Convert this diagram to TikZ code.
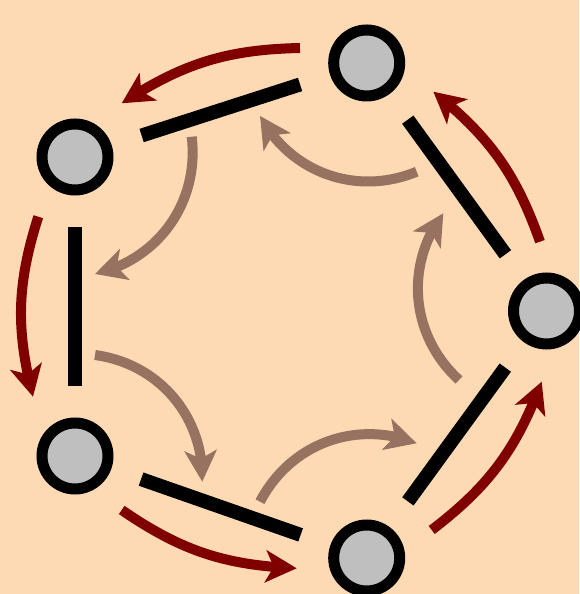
\documentclass[tikz,border=0pt]{standalone}
\usetikzlibrary{arrows.meta,bending}
\definecolor{peach}{RGB}{254,218,180}
\definecolor{maroonred}{RGB}{128,0,0}
\definecolor{arrowbrown}{RGB}{152,114,96}
\definecolor{vertexgray}{RGB}{191,191,191}
\begin{document}
\begin{tikzpicture}[x=1pt,y=1pt,
  vertex/.style={circle,draw=black,fill=vertexgray,line width=11pt,
    minimum size=66pt,inner sep=0pt,outer sep=0pt},
  bar/.style={line width=14pt,shorten <=37pt,shorten >=37pt},
  outerarrow/.style={line width=10pt,draw=maroonred,
    -{Stealth[length=31pt,width=32pt,inset=8pt]},bend right=16},
  innerarrow/.style={line width=10pt,draw=arrowbrown,
    -{Stealth[length=31pt,width=32pt,inset=8pt]},bend left=42}]
\fill[peach] (0,0) rectangle (579,594);
\useasboundingbox (0,0) rectangle (579,594);
% vertices
\node[vertex] (A) at (366.7,531) {};
\node[vertex] (B) at (75,437) {};
\node[vertex] (C) at (75,138) {};
\node[vertex] (D) at (366.7,36) {};
\node[vertex] (E) at (546.5,283) {};
% edges
\draw[bar] (A) -- (B);
\draw[bar] (B) -- (C);
\draw[bar] (C) -- (D);
\draw[bar] (D) -- (E);
\draw[bar] (E) -- (A);
% outer arrow ends
\coordinate (r1s) at (300,546);   \coordinate (r1e) at (121.7,490.7);
\coordinate (r2s) at (38.3,377.3); \coordinate (r2e) at (33,197.3);
\coordinate (r3s) at (121.7,84);  \coordinate (r3e) at (296.7,25.7);
\coordinate (r4s) at (431.7,64);  \coordinate (r4e) at (541.7,212.3);
\coordinate (r5s) at (540,352.3); \coordinate (r5e) at (433.3,502.3);
\draw[outerarrow] (r1s) to (r1e);
\draw[outerarrow] (r2s) to (r2e);
\draw[outerarrow] (r3s) to (r3e);
\draw[outerarrow] (r4s) to (r4e);
\draw[outerarrow] (r5s) to (r5e);
% inner arrow ends
\coordinate (b1s) at (191.7,457.3); \coordinate (b1e) at (95,320);
\coordinate (b2s) at (95,239);      \coordinate (b2e) at (202.3,112.3);
\coordinate (b3s) at (260,92.3);    \coordinate (b3e) at (416.7,150.7);
\coordinate (b4s) at (459,214);     \coordinate (b4e) at (443.3,380.7);
\coordinate (b5s) at (416.7,422.3); \coordinate (b5e) at (260,478);
\draw[innerarrow] (b1s) to (b1e);
\draw[innerarrow] (b2s) to (b2e);
\draw[innerarrow] (b3s) to (b3e);
\draw[innerarrow] (b4s) to (b4e);
\draw[innerarrow] (b5s) to (b5e);
\end{tikzpicture}
\end{document}
